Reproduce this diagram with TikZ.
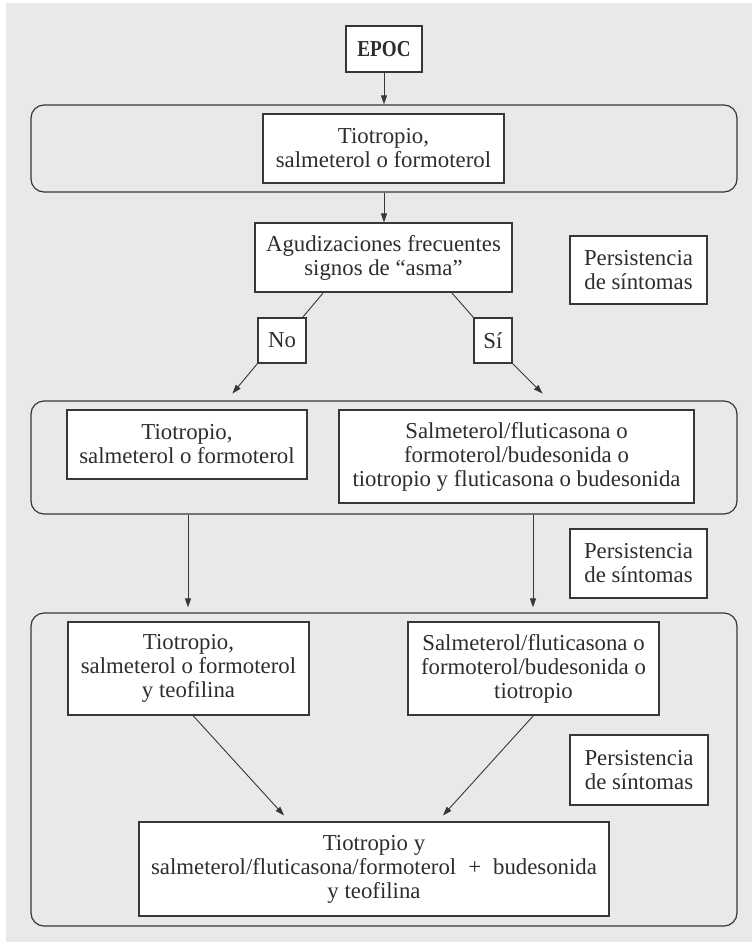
\documentclass[tikz,border=0pt]{standalone}
\usepackage{fontspec}
\usepackage{graphicx}
\setmainfont{Liberation Serif}
\usetikzlibrary{arrows.meta,calc}
\definecolor{bgc}{RGB}{232,233,235}
\definecolor{linec}{RGB}{55,55,55}
\definecolor{textc}{RGB}{45,45,45}
\newcommand{\txtsz}{\fontsize{22.8}{24}\selectfont}
\tikzset{
  box/.style={draw=linec, fill=white, line width=1.1pt, align=center, inner sep=0pt, text=textc, font=\txtsz},
  outerbox/.style={draw=linec, line width=1.2pt, rounded corners=13pt, inner sep=0pt},
  conn/.style={draw=linec, line width=0.9pt},
  arr/.style={conn, -{Triangle[length=9pt,width=6pt]}}
}
\begin{document}
\begin{tikzpicture}[x=1pt,y=-1pt]
\useasboundingbox (0,0) rectangle (752,943);
\fill[bgc] (6,3) rectangle (752,942);

% level 0
\node[box, minimum width=76pt, minimum height=46pt] (epoc) at (384,49) {\scalebox{0.84}[1]{\bfseries EPOC}};

% level 1
\node[outerbox, minimum width=706pt, minimum height=87pt] (o1) at (384,148.5) {};
\node[box, minimum width=241pt, minimum height=69pt] (b1) at (383.5,148.5) {Tiotropio,\\salmeterol o formoterol};

\node[box, minimum width=257pt, minimum height=69pt] (agud) at (383.5,257.5) {Agudizaciones frecuentes\\signos de “asma”};
\node[box, minimum width=137pt, minimum height=68pt] (p1) at (638.5,270) {Persistencia\\de síntomas};
\node[box, minimum width=48pt, minimum height=45pt] (no) at (282,340.5) {No};
\node[box, minimum width=38pt, minimum height=45pt] (si) at (493,340.5) {Sí};

% level 2
\node[outerbox, minimum width=706pt, minimum height=113pt] (o2) at (384,457.5) {};
\node[box, minimum width=240pt, minimum height=69pt] (b2a) at (187,444.5) {Tiotropio,\\salmeterol o formoterol};
\node[box, minimum width=355pt, minimum height=93pt] (b2b) at (516.5,456.5) {Salmeterol/fluticasona o\\formoterol/budesonida o\\tiotropio y fluticasona o budesonida};
\node[box, minimum width=137pt, minimum height=69pt] (p2) at (638.5,563.5) {Persistencia\\de síntomas};

% level 3
\node[outerbox, minimum width=706pt, minimum height=313pt] (o3) at (384,769.5) {};
\node[box, minimum width=241pt, minimum height=93pt] (b3a) at (188.5,668.5) {Tiotropio,\\salmeterol o formoterol\\y teofilina};
\node[box, minimum width=251pt, minimum height=93pt] (b3b) at (533.5,668.5) {Salmeterol/fluticasona o\\formoterol/budesonida o\\tiotropio};
\node[box, minimum width=138pt, minimum height=70pt] (p3) at (639,770) {Persistencia\\de síntomas};
\node[box, minimum width=470pt, minimum height=94pt] (b3c) at (374,869) {Tiotropio y\\salmeterol/fluticasona/formoterol\hspace{12pt}+\hspace{12pt}budesonida\\y teofilina};

% free ends
\coordinate (tno) at ($(no.south west)+(-25,30)$);
\coordinate (tsi) at ($(si.south east)+(30,30)$);
\coordinate (t3a) at ($(b3c.north)+(-90,-6)$);
\coordinate (t3b) at ($(b3c.north)+(69,-6)$);

% connectors
\draw[arr] (epoc.south) -- (o1.north);
\draw[arr] (o1.south) -- (o1.south |- agud.north);
\draw[conn] ($(agud.south west)+(69,0)$) -- ($(no.north east)+(-4,0)$);
\draw[arr] (no.south west) -- (tno);
\draw[conn] ($(agud.south east)+(-61,0)$) -- (si.north west);
\draw[arr] (si.south east) -- (tsi);
\draw[arr, shorten >=5pt] ($(o2.south)+(-196,0)$) -- ($(o3.north)+(-196,0)$);
\draw[arr, shorten >=5pt] ($(o2.south)+(149,0)$) -- ($(o3.north)+(149,0)$);
\draw[arr] ($(b3a.south)+(4.5,0)$) -- (t3a);
\draw[arr] (b3b.south) -- (t3b);
\end{tikzpicture}
\end{document}
